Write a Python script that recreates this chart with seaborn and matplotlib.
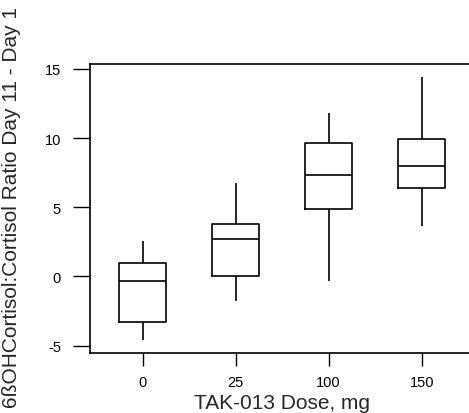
import matplotlib
matplotlib.use("Agg")
import matplotlib.pyplot as plt
import seaborn as sns
import pandas as pd

doses = ["0", "25", "100", "150"]
whisker_low = [-4.57, -1.80, -0.32, 3.65]
q1 = [-3.27, 0.05, 4.91, 6.42]
median = [-0.29, 2.69, 7.31, 7.98]
q3 = [1.00, 3.77, 9.64, 9.91]
whisker_high = [2.55, 6.78, 11.85, 14.40]
yticks = [-5, 0, 5, 10, 15]

rows = []
for i, d in enumerate(doses):
    for v in (whisker_low[i], q1[i], median[i], q3[i], whisker_high[i]):
        rows.append({"dose": d, "value": v})
df = pd.DataFrame(rows)

sns.set_style("ticks")
plt.rcParams["font.family"] = ["Liberation Sans", "DejaVu Sans"]

W, H = 469, 414
ax_l, ax_r, ax_t, ax_b = 89.5, 472, 65, 354
fig = plt.figure(figsize=(W / 100, H / 100), dpi=100)
ax = fig.add_axes([ax_l / W, (H - ax_b) / H, (ax_r - ax_l) / W, (ax_b - ax_t) / H])

sns.boxplot(data=df, x="dose", y="value", order=doses, whis=(0, 100),
            width=0.5, fill=False, color="black", linewidth=1.2,
            showcaps=False, ax=ax)

ax.set_xlim(-0.57, 3.54)
ax.set_ylim(-5.53, 15.36)
ax.set_yticks(yticks)
ax.set_yticklabels([str(t) for t in yticks])
for s in ax.spines.values():
    s.set_visible(True)
    s.set_color("black")
    s.set_linewidth(1.2)
ax.tick_params(axis="y", length=12, width=1, pad=8.5, labelsize=10.5, colors="black")
ax.tick_params(axis="x", length=9, width=1, pad=7, labelsize=10.5, colors="black")
ax.set_xlabel("TAK-013 Dose, mg", fontsize=15)
ax.set_ylabel("6ßOHCortisol:Cortisol Ratio Day 11 - Day 1", fontsize=15)
axw = ax_r - ax_l
axh = ax_b - ax_t
ax.yaxis.set_label_coords((12 - ax_l) / axw, (ax_b - 207.5) / axh)
ax.yaxis.label.set_va("center")
ax.xaxis.set_label_coords((281.7 - ax_l) / axw, (ax_b - 413) / axh)
ax.xaxis.label.set_va("bottom")

fig.savefig("out.png", dpi=100)
